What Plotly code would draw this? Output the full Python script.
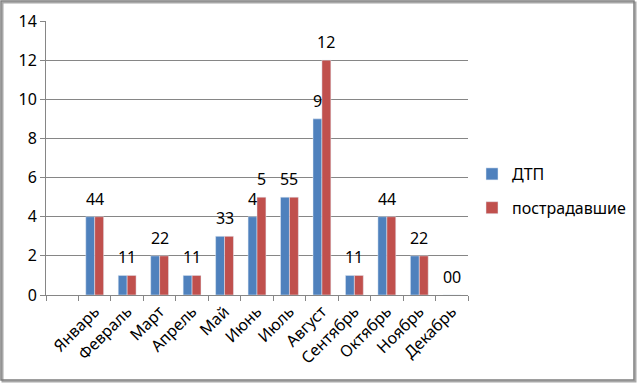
import plotly.graph_objects as go

months = [" ", "Январь", "Февраль", "Март", "Апрель", "Май", "Июнь", "Июль",
          "Август", "Сентябрь", "Октябрь", "Ноябрь", "Декабрь"]
dtp = [None, 4, 1, 2, 1, 3, 4, 5, 9, 1, 4, 2, 0]
victims = [None, 4, 1, 2, 1, 3, 5, 5, 12, 1, 4, 2, 0]
y_ticks = [0, 2, 4, 6, 8, 10, 12, 14]

W, H = 637, 383
L, R, T, B = 46, 169, 21, 88
FONT = "Noto Sans"
FS = 16
BARGAP = 0.45

fig = go.Figure()
fig.add_trace(go.Bar(x=months, y=dtp, name="ДТП", marker_color="#4F81BD",
                     legendgroup="a"))
fig.add_trace(go.Bar(x=months, y=victims, name="пострадавшие", marker_color="#C0504D",
                     legendgroup="b"))

pw = W - L - R
ph = H - T - B
def px_x(p):
    return (p - L) / pw
def px_y(p):
    return (H - B - p) / ph

# data labels above each bar (offset to the bar's position within its group)
cat_w = pw / len(months)
bar_w = cat_w * (1 - BARGAP) / 2
annotations = []
for series, shift in ((dtp, -bar_w / 2), (victims, bar_w / 2)):
    for m, v in zip(months, series):
        if v is None:
            continue
        annotations.append(dict(x=m, y=v, xref="x", yref="y", text=str(v),
                                showarrow=False, xanchor="center", yanchor="bottom",
                                xshift=shift, yshift=5,
                                font=dict(size=FS, family=FONT, color="#000000")))

fig.update_layout(
    width=W, height=H,
    margin=dict(l=L, r=R, t=T, b=B, pad=0, autoexpand=False),
    paper_bgcolor="white", plot_bgcolor="white",
    font=dict(family=FONT, size=FS, color="#000000"),
    barmode="group", bargap=BARGAP, bargroupgap=0,
    showlegend=True,
    legend=dict(x=px_x(472), y=px_y(191), xanchor="left", yanchor="middle",
                font=dict(size=FS, family=FONT), tracegroupgap=10,
                itemwidth=30, bgcolor="rgba(0,0,0,0)"),
    xaxis=dict(type="category", tickangle=-45, tickson="boundaries",
               ticks="outside", ticklen=5, tickcolor="#868686",
               showline=True, linecolor="#868686", linewidth=1,
               showgrid=False, automargin=False,
               tickfont=dict(size=FS, family=FONT)),
    yaxis=dict(range=[0, 14], tickvals=y_ticks, ticks="outside", ticklen=5,
               tickcolor="#868686", showline=True, linecolor="#868686",
               gridcolor="#868686", gridwidth=1, zeroline=False,
               automargin=False,
               tickfont=dict(size=FS, family=FONT)),
    annotations=annotations,
    shapes=[
        dict(type="rect", xref="paper", yref="paper",
             x0=px_x(2.5), x1=px_x(635.5), y0=px_y(2.5), y1=px_y(381.5),
             line=dict(color="#A8A8A8", width=2), fillcolor="rgba(0,0,0,0)",
             layer="below"),
        dict(type="rect", xref="paper", yref="paper",
             x0=px_x(1), x1=px_x(634), y0=px_y(1), y1=px_y(380),
             line=dict(color="#7F7F7F", width=1.5), fillcolor="rgba(0,0,0,0)",
             layer="below"),
    ],
)

fig.write_html("out.html", config={"displayModeBar": False},
               post_script="document.body.style.margin='0';document.body.style.overflow='hidden';")
